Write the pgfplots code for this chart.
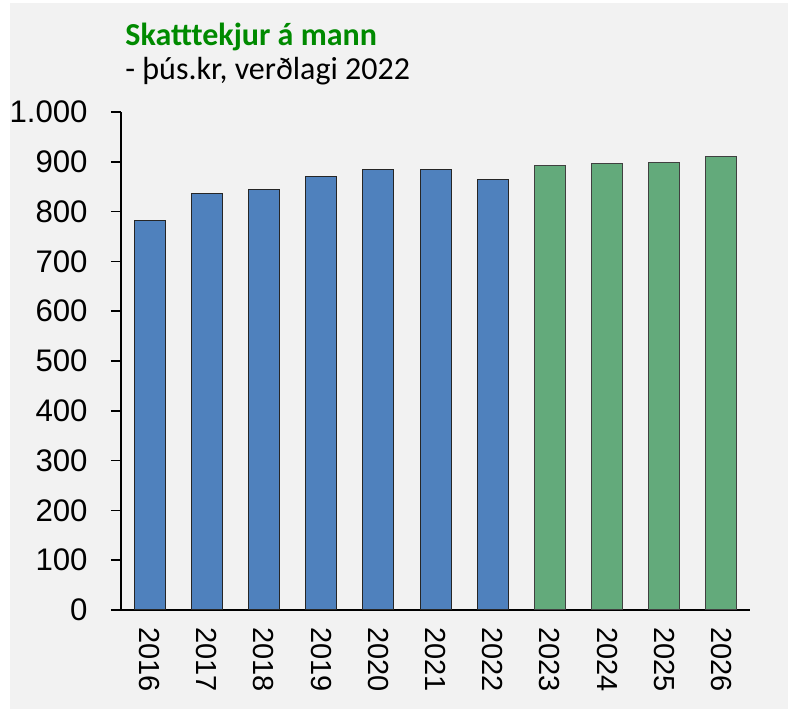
\documentclass[border=0pt]{standalone}
\usepackage{pgfplots}
\pgfplotsset{compat=1.18}
\usepackage{fontspec}
\setmainfont{Liberation Sans}
\newfontfamily\carlito{Carlito}
\definecolor{bg}{HTML}{F2F2F2}
\definecolor{barblue}{HTML}{4F81BD}
\definecolor{bargreen}{HTML}{63AA7B}
\definecolor{titlegreen}{HTML}{008A00}
\begin{document}
\begin{tikzpicture}
\fill[white] (0,0) rectangle (394pt,355pt);
\fill[bg] (5pt,0.5pt) rectangle (394pt,353.5pt);
\node[anchor=base west, font=\carlito\bfseries\fontsize{16}{19}\selectfont, text=titlegreen, inner sep=0pt] at (62.5pt,332pt) {Skatttekjur á mann};
\node[anchor=base west, font=\carlito\fontsize{16}{19}\selectfont, inner sep=0pt] at (62.5pt,315pt) {- þús.kr, verðlagi 2022};
\begin{axis}[
  at={(60.5pt,50pt)}, anchor=south west,
  scale only axis, width=314.5pt, height=249pt,
  xmin=-0.5, xmax=10.5, ymin=0, ymax=1000,
  axis x line*=bottom, axis y line*=left,
  axis line style={line width=0.75pt, -},
  ytick={0,100,...,1000},
  tick align=outside,
  y tick style={line width=0.75pt, black},
  major tick length=5pt,
  xtick={0,...,10},
  xticklabels={2016,2017,2018,2019,2020,2021,2022,2023,2024,2025,2026},
  x tick style={draw=none},
  x tick label style={rotate=-90, anchor=west, font=\fontsize{14.5}{17}\selectfont},
  y tick label style={font=\fontsize{15.6}{19}\selectfont, inner sep=0pt, xshift=-11.5pt},
  /pgf/number format/assume math mode=true,
  /pgf/number format/1000 sep={.},
  clip=false,
]
\addplot[ybar, bar width=15.5pt, bar shift=0pt, fill=barblue, draw=black!85, line width=0.5pt]
  coordinates {(0,782) (1,837) (2,845) (3,871) (4,885) (5,885) (6,864)};
\addplot[ybar, bar width=15.5pt, bar shift=0pt, fill=bargreen, draw=black!75, line width=0.5pt]
  coordinates {(7,892) (8,896) (9,898) (10,910)};
\end{axis}
\end{tikzpicture}
\end{document}
